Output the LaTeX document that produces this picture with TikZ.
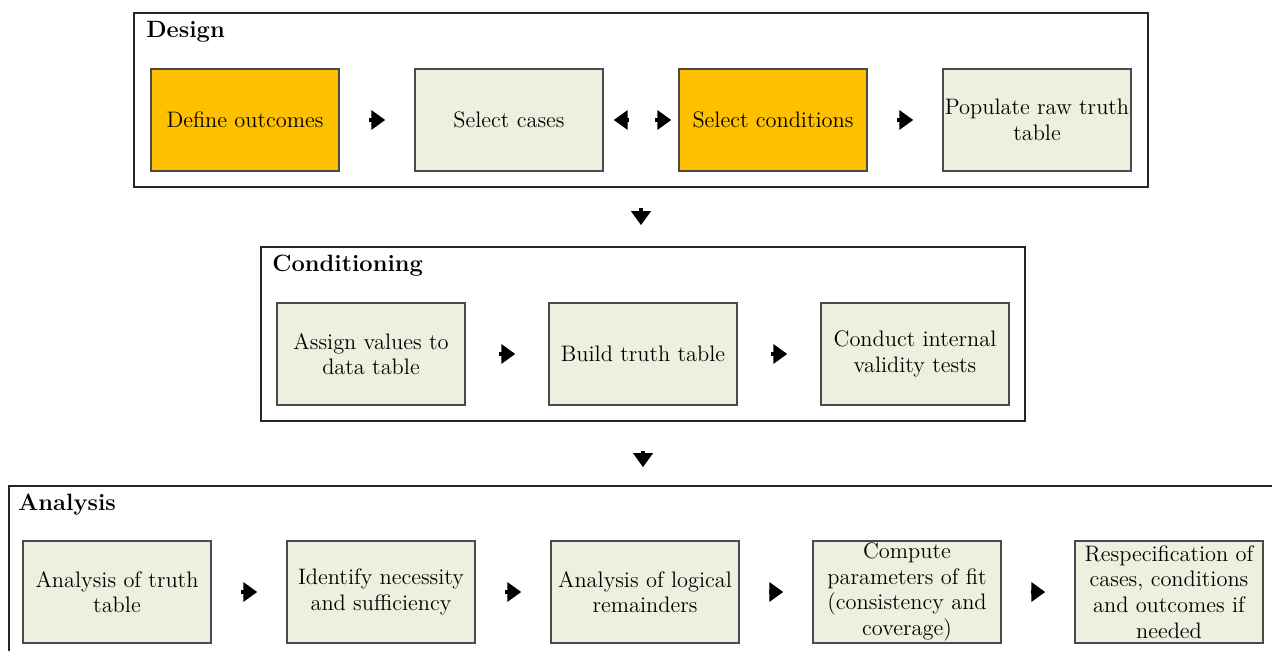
\documentclass[tikz,border=0pt]{standalone}
\usetikzlibrary{arrows.meta}
\definecolor{stepgreen}{HTML}{EBF1DE}
\definecolor{steporange}{HTML}{FFC000}
\definecolor{stepedge}{HTML}{4A4A4A}
\tikzset{
  stage/.style={draw=black!85, line width=0.8pt, inner sep=0pt},
  stagetitle/.style={anchor=base west, font=\fontsize{11.8}{13}\selectfont\bfseries, inner sep=0pt},
  stepbox/.style={draw=stepedge, line width=0.7pt, fill=stepgreen, minimum width=94pt,
    minimum height=51pt, align=center, inner sep=0pt,
    font=\fontsize{11.2}{12.8}\selectfont},
  keybox/.style={stepbox, fill=steporange},
  flow/.style={line width=2.2pt, -{Triangle[length=7pt,width=9.5pt]}}
}
\begin{document}
\begin{tikzpicture}[x=0.5pt,y=-0.5pt]
\useasboundingbox (0,0) rectangle (1272,651);
\clip (0,0) rectangle (1272,651);

% stage containers
\node[stage, minimum width=507pt, minimum height=87pt] (design) at (641,100) {};
\node[stage, minimum width=382pt, minimum height=87pt] (cond) at (643,334) {};
\node[stage, minimum width=640.5pt, minimum height=92pt] (ana) at (649.5,578) {};

\node[stagetitle] (tdesign) at (146,38) {Design};
\node[stagetitle] (tcond) at (272,272) {Conditioning};
\node[stagetitle] (tana) at (18,510) {Analysis};

% design steps
\node[keybox] (d1) at (245,120) {Define outcomes};
\node[stepbox] (d2) at (509,120) {Select cases};
\node[keybox] (d3) at (773,120) {Select conditions};
\node[stepbox] (d4) at (1037,120) {Populate raw truth\\table};

% conditioning steps
\node[stepbox] (c1) at (371,354) {Assign values to\\data table};
\node[stepbox] (c2) at (643,354) {Build truth table};
\node[stepbox] (c3) at (915,354) {Conduct internal\\validity tests};

% analysis steps
\node[stepbox] (a1) at (117,592) {Analysis of truth\\table};
\node[stepbox] (a2) at (381,592) {Identify necessity\\and sufficiency};
\node[stepbox] (a3) at (645,592) {Analysis of logical\\remainders};
\node[stepbox] (a4) at (907,592) {Compute\\parameters of fit\\(consistency and\\coverage)};
\node[stepbox] (a5) at (1169,592) {Respecification of\\cases, conditions\\and outcomes if\\needed};

% arrows within design
\draw[flow, shorten <=14.5pt, shorten >=14.5pt] (d1) -- (d2);
\draw[flow, shorten <=25.5pt, shorten >=3.5pt] (d2) -- (d3);
\draw[flow, shorten <=24.5pt, shorten >=5pt] (d3) -- (d2);
\draw[flow, shorten <=14.5pt, shorten >=14.5pt] (d3) -- (d4);

% arrows within conditioning
\draw[flow, shorten <=16.5pt, shorten >=16.5pt] (c1) -- (c2);
\draw[flow, shorten <=16.5pt, shorten >=16.5pt] (c2) -- (c3);

% arrows within analysis
\draw[flow, shorten <=14.5pt, shorten >=14.5pt] (a1) -- (a2);
\draw[flow, shorten <=14.5pt, shorten >=14.5pt] (a2) -- (a3);
\draw[flow, shorten <=14.5pt, shorten >=14.5pt] (a3) -- (a4);
\draw[flow, shorten <=14.5pt, shorten >=14.5pt] (a4) -- (a5);

% arrows between stages
\draw[flow, shorten <=10pt, shorten >=10.5pt] (design.south) -- (design.south |- cond.north);
\draw[flow, shorten <=14.5pt, shorten >=9pt] (cond.south) -- (cond.south |- ana.north);
\end{tikzpicture}
\end{document}
